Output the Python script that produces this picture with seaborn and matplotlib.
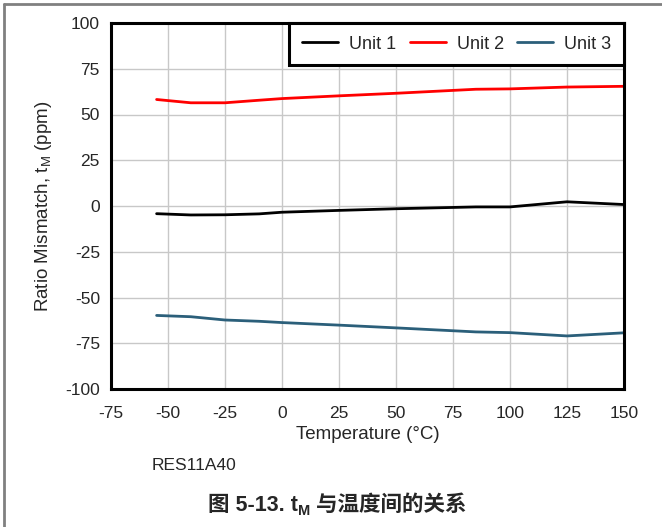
import matplotlib
matplotlib.use("Agg")
import matplotlib.pyplot as plt
import seaborn as sns
import pandas as pd
from matplotlib.lines import Line2D

temps = [-55, -40, -25, -10, 0, 25, 50, 85, 100, 125, 150]
unit1 = [-4.2, -4.9, -4.8, -4.3, -3.4, -2.4, -1.5, -0.5, -0.5, 2.3, 0.8]
unit2 = [58.2, 56.4, 56.4, 57.8, 58.7, 60.2, 61.6, 63.8, 64.0, 65.0, 65.4]
unit3 = [-59.8, -60.5, -62.3, -63.0, -63.7, -65.1, -66.6, -68.8, -69.2, -71.0, -69.3]
series_names = ["Unit 1", "Unit 2", "Unit 3"]
colors = ["#000000", "#ff0000", "#2b5f7a"]
xticks = [-75, -50, -25, 0, 25, 50, 75, 100, 125, 150]
yticks = [-100, -75, -50, -25, 0, 25, 50, 75, 100]

df = pd.DataFrame({
    "Temperature": temps * 3,
    "Value": unit1 + unit2 + unit3,
    "Unit": sum([[n] * len(temps) for n in series_names], []),
})

sns.set_theme(style="white")
plt.rcParams['font.family'] = ['Liberation Sans', 'Noto Sans CJK SC', 'DejaVu Sans']
plt.rcParams['mathtext.fontset'] = 'custom'
plt.rcParams['mathtext.rm'] = 'Liberation Sans'

fig = plt.figure(figsize=(6.62, 5.27), dpi=100)
ax = fig.add_axes([111/662, 1-389/527, (624-111)/662, (389-23)/527])

sns.lineplot(data=df, x="Temperature", y="Value", hue="Unit", palette=colors,
             linewidth=2.0, ax=ax, legend=False)

ax.set_xlim(-75, 150)
ax.set_ylim(-100, 100)
ax.set_xticks(xticks)
ax.set_yticks(yticks)
ax.set_xticklabels([str(t) for t in xticks], fontsize=12.5)
ax.set_yticklabels([str(t) for t in yticks], fontsize=12.5)
ax.tick_params(axis="x", length=0, pad=12)
ax.tick_params(axis="y", length=0, pad=8)
ax.grid(True, color="#c8c8c8", linewidth=1.0)
for s in ax.spines.values():
    s.set_linewidth(2.2)
    s.set_color("black")
ax.set_xlabel("Temperature (°C)", fontsize=13.5, labelpad=4)
ax.set_ylabel("Ratio Mismatch, t$_\\mathrm{M}$ (ppm)", fontsize=13.5, labelpad=8)

handles = [Line2D([0], [0], color=c, lw=2.0) for c in colors]
leg = ax.legend(handles, series_names, loc="upper right", ncol=3, fontsize=13,
                frameon=True, fancybox=False, edgecolor="black", framealpha=1,
                borderaxespad=0, handlelength=2.0, columnspacing=0.75, handletextpad=0.6,
                borderpad=0.7)
leg.get_frame().set_linewidth(2.2)

fig.text(152/662, 1-466/527, "RES11A40", fontsize=12.5, va="center", ha="left")

# caption with subscript, composed in pieces
fig.canvas.draw()
r = fig.canvas.get_renderer()
cy = 1 - 511/527
t1 = fig.text(0, cy, "图 5-13. t", fontsize=15.5, fontweight="bold", va="baseline")
t2 = fig.text(0, cy, "M", fontsize=10.5, fontweight="bold", va="baseline")
t3 = fig.text(0, cy, " 与温度间的关系", fontsize=15.5, fontweight="bold", va="baseline")
w1 = t1.get_window_extent(r).width
w2 = t2.get_window_extent(r).width
w3 = t3.get_window_extent(r).width
W = fig.bbox.width
total = w1 + w2 + w3
x0 = 337 - total / 2
t1.set_x(x0 / W)
t2.set_x((x0 + w1) / W)
t2.set_y(cy - 4/527)
t3.set_x((x0 + w1 + w2) / W)

# page border lines (top and left)
fig.add_artist(Line2D([4/662, 1], [1-4/527, 1-4/527], transform=fig.transFigure, color="#808080", lw=2))
fig.add_artist(Line2D([4/662, 4/662], [0, 1-4/527], transform=fig.transFigure, color="#808080", lw=2))

fig.savefig("out.png", dpi=100)
